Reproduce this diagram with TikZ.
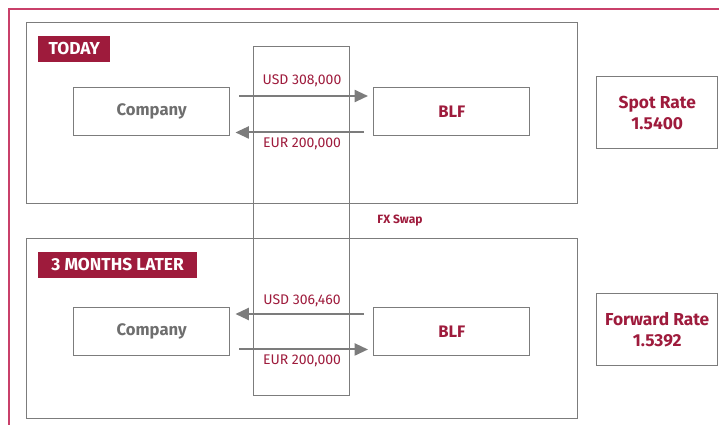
\documentclass[tikz,border=0pt]{standalone}
\usepackage{fontspec}
\setmainfont{Fira Sans}
\usetikzlibrary{arrows.meta,calc}
\definecolor{brand}{HTML}{9E1B3C}
\definecolor{framered}{HTML}{C9406A}
\definecolor{linegrey}{HTML}{7C7C7C}
\definecolor{txtgrey}{HTML}{6E6E6E}
\tikzset{
  box/.style={draw=linegrey, line width=1.1pt, inner sep=0pt},
  partybox/.style={box, minimum width=117pt, minimum height=36pt, font=\fontsize{12.5}{14}\selectfont\bfseries},
  ratebox/.style={box, minimum width=90.75pt, minimum height=54pt, align=center, text=brand, font=\fontsize{13}{16}\selectfont\bfseries},
  tag/.style={fill=brand, text=white, inner xsep=2pt, inner ysep=0pt, minimum height=19pt, font=\fontsize{13}{14}\selectfont\bfseries},
  amount/.style={text=brand, inner sep=0pt, font=\fontsize{10.5}{12}\selectfont},
  flow/.style={draw=linegrey, line width=1.5pt, -{Triangle[length=10pt,width=9pt]}}
}
\begin{document}
\begin{tikzpicture}[x=0.75pt,y=-0.75pt]
\useasboundingbox (0,0) rectangle (719,425);
\clip (0,0) rectangle (719,425);
% outer red frame (cut off at right and bottom)
\draw[framered, line width=1pt] (9,440) -- (9,9) -- (730,9);
% section frames
\node[box, minimum width=413.25pt, minimum height=135.75pt, anchor=north west] (today) at (26,22) {};
\node[box, minimum width=413.25pt, minimum height=135pt, anchor=north west] (later) at (26,238) {};
% FX swap column
\node[box, minimum width=72pt, minimum height=261.75pt, anchor=north west] (swap) at (253,46) {};
% tags
\node[tag, minimum width=54pt, anchor=north west] (tagtoday) at (38,36) {TODAY};
\node[tag, minimum width=119pt, anchor=north west] (taglater) at (38,252) {3 MONTHS LATER};
% parties
\node[partybox, text=txtgrey, anchor=north west] (c1) at (73,87) {Company};
\node[partybox, text=brand, anchor=north west] (b1) at (373,87) {BLF};
\node[partybox, text=txtgrey, anchor=north west] (c2) at (73,307) {Company};
\node[partybox, text=brand, anchor=north west] (b2) at (373,307) {BLF};
% rates
\node[ratebox, anchor=north west] (spot) at (596,76) {Spot Rate\\1.5400};
\node[ratebox, anchor=north west] (fwd) at (596,293) {Forward Rate\\1.5392};
% flows today
\draw[flow] ($(c1.north east)+(9,9)$) -- ($(b1.north west)+(-5,9)$);
\draw[flow] ($(b1.south west)+(-9,-4)$) -- ($(c1.south east)+(5,-4)$);
\node[amount] (usd1) at (302,81) {USD 308,000};
\node[amount] (eur1) at (302,144) {EUR 200,000};
% flows later
\draw[flow] ($(b2.north west)+(-9,7)$) -- ($(c2.north east)+(5,7)$);
\draw[flow] ($(c2.south east)+(9,-7)$) -- ($(b2.south west)+(-5,-7)$);
\node[amount] (usd2) at (302,301) {USD 306,460};
\node[amount] (eur2) at (302,361) {EUR 200,000};
% FX swap label
\node[text=brand, inner sep=0pt, font=\fontsize{9}{10}\selectfont\bfseries] (fx) at (400,221) {FX Swap};
\end{tikzpicture}
\end{document}
